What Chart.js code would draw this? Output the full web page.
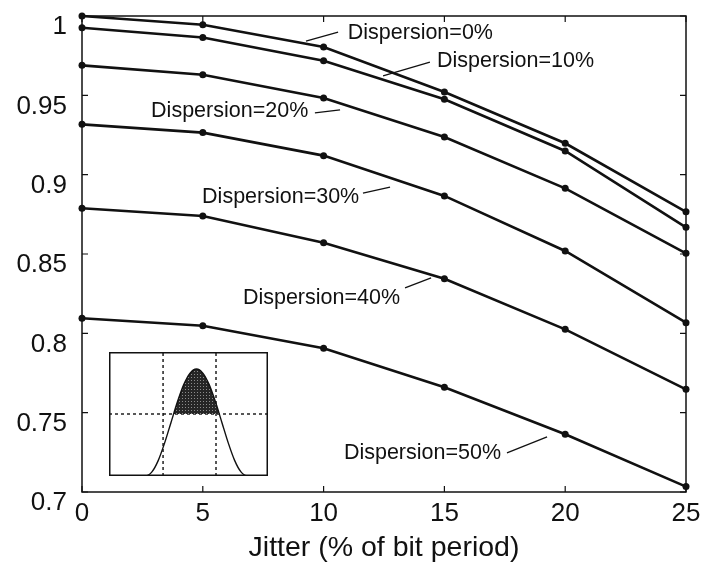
<!DOCTYPE html>
<html>
<head>
<meta charset="utf-8">
<script src="https://cdn.jsdelivr.net/npm/chart.js@4.4.1/dist/chart.umd.min.js"></script>
<style>
  body { margin: 0; background: #fff; }
  #wrap { position: relative; width: 709px; height: 565px; }
  #main { position: absolute; left: 0; top: 0; }
  #eye { position: absolute; left: 109px; top: 352px; }
</style>
</head>
<body>
<div id="wrap">
  <canvas id="main" width="709" height="565"></canvas>
  <canvas id="eye" width="159" height="124"></canvas>
</div>
<script>
const FONT = "'Liberation Sans', Arial, Helvetica, sans-serif";
const INK = '#111';

// jitter values on the x axis
const jitter = [0, 5, 10, 15, 20, 25];
const xTicks = [0, 5, 10, 15, 20, 25];
const yTicks = [0.7, 0.75, 0.8, 0.85, 0.9, 0.95, 1];

// one curve per dispersion level
const disp0  = [1.000, 0.9945, 0.9805, 0.9521, 0.9198, 0.8766];
const disp10 = [0.9926, 0.9865, 0.9718, 0.9475, 0.9149, 0.8668];
const disp20 = [0.9689, 0.9630, 0.9483, 0.9237, 0.8914, 0.8504];
const disp30 = [0.9317, 0.9265, 0.9120, 0.8866, 0.8519, 0.8067];
const disp40 = [0.8788, 0.8740, 0.8571, 0.8344, 0.8025, 0.7647];
const disp50 = [0.8095, 0.8048, 0.7906, 0.7660, 0.7364, 0.7034];

const seriesNames = ['Dispersion=0%', 'Dispersion=10%', 'Dispersion=20%',
                     'Dispersion=30%', 'Dispersion=40%', 'Dispersion=50%'];
const seriesValues = [disp0, disp10, disp20, disp30, disp40, disp50];

// eye-opening sketch for the small inset
const eyeX = [0, 0.23, 0.27, 0.31, 0.35, 0.39, 0.43, 0.47, 0.51, 0.55, 0.59, 0.63, 0.67, 0.71, 0.75, 0.79, 0.83, 0.87, 1];
const eyeY = [0, 0, 0.033, 0.126, 0.267, 0.432, 0.596, 0.737, 0.830, 0.863, 0.830, 0.737, 0.596, 0.432, 0.267, 0.126, 0.033, 0, 0];
const threshold = 0.5;
const sampleEdges = [0.34, 0.673];

// where each curve name sits, with its leader line (data units)
const callouts = [
  { text: seriesNames[0], at: [11.0, 0.9893], line: [9.27, 0.9842, 10.60, 0.9899] },
  { text: seriesNames[1], at: [14.69, 0.9716], line: [12.46, 0.9622, 14.40, 0.9710] },
  { text: seriesNames[2], at: [2.86, 0.9401], line: [9.64, 0.9389, 10.68, 0.9408] },
  { text: seriesNames[3], at: [4.97, 0.8859], line: [11.63, 0.8884, 12.75, 0.8922] },
  { text: seriesNames[4], at: [6.66, 0.8223], line: [13.37, 0.8286, 14.45, 0.8349] },
  { text: seriesNames[5], at: [10.84, 0.7246], line: [17.59, 0.7246, 19.25, 0.7347] }
];

// box around the plot with inward tick marks on all sides
const frame = {
  id: 'frame',
  beforeDatasetsDraw(chart) {
    const { ctx, chartArea: a, scales: { x, y } } = chart;
    const tl = 6;
    ctx.save();
    ctx.strokeStyle = INK;
    ctx.lineWidth = 1.5;
    ctx.strokeRect(a.left, a.top, a.right - a.left, a.bottom - a.top);
    ctx.lineWidth = 1.2;
    ctx.beginPath();
    xTicks.forEach(v => {
      const px = x.getPixelForValue(v);
      ctx.moveTo(px, a.bottom); ctx.lineTo(px, a.bottom - tl);
      ctx.moveTo(px, a.top); ctx.lineTo(px, a.top + tl);
    });
    yTicks.forEach(v => {
      const py = y.getPixelForValue(v);
      ctx.moveTo(a.left, py); ctx.lineTo(a.left + tl, py);
      ctx.moveTo(a.right, py); ctx.lineTo(a.right - tl, py);
    });
    ctx.stroke();
    ctx.restore();
  }
};

const names = {
  id: 'names',
  afterDatasetsDraw(chart) {
    const { ctx, scales: { x, y } } = chart;
    ctx.save();
    ctx.fillStyle = INK;
    ctx.strokeStyle = INK;
    ctx.lineWidth = 1.3;
    ctx.font = '21.5px ' + FONT;
    ctx.textAlign = 'left';
    ctx.textBaseline = 'middle';
    callouts.forEach(c => {
      ctx.fillText(c.text, x.getPixelForValue(c.at[0]), y.getPixelForValue(c.at[1]));
      ctx.beginPath();
      ctx.moveTo(x.getPixelForValue(c.line[0]), y.getPixelForValue(c.line[1]));
      ctx.lineTo(x.getPixelForValue(c.line[2]), y.getPixelForValue(c.line[3]));
      ctx.stroke();
    });
    ctx.restore();
  }
};

new Chart(document.getElementById('main'), {
  type: 'line',
  data: {
    datasets: seriesValues.map((vals, i) => ({
      label: seriesNames[i],
      data: jitter.map((j, k) => ({ x: j, y: vals[k] })),
      borderColor: INK,
      backgroundColor: INK,
      borderWidth: 2.6,
      pointRadius: 3.5,
      pointBorderWidth: 0,
      tension: 0,
      clip: false
    }))
  },
  options: {
    responsive: false,
    animation: false,
    layout: { padding: { top: 16, right: 23, left: 0, bottom: 0 } },
    plugins: { legend: { display: false }, tooltip: { enabled: false } },
    scales: {
      x: {
        type: 'linear',
        min: 0,
        max: 25,
        afterBuildTicks: s => { s.ticks = xTicks.map(v => ({ value: v })); },
        afterFit: s => { s.height = 73; s.paddingLeft = 0; s.paddingRight = 0; },
        grid: { display: false, drawTicks: false },
        border: { display: false },
        ticks: { color: INK, padding: 6, font: { family: FONT, size: 26 } },
        title: {
          display: true,
          text: 'Jitter (% of bit period)',
          color: INK,
          font: { family: FONT, size: 28.5, lineHeight: 1 },
          padding: { top: 0, bottom: 3 }
        }
      },
      y: {
        type: 'linear',
        min: 0.7,
        max: 1,
        afterBuildTicks: s => { s.ticks = yTicks.map(v => ({ value: v })); },
        afterFit: s => { s.width = 82; s.paddingTop = 0; s.paddingBottom = 0; },
        grid: { display: false, drawTicks: false },
        border: { display: false },
        ticks: {
          color: INK,
          padding: 15,
          labelOffset: 11,
          font: { family: FONT, size: 26, lineHeight: 1 },
          callback: v => String(+v.toFixed(2))
        }
      }
    }
  },
  plugins: [frame, names]
});

// inset: eye diagram with the open region shaded
const eyeCanvas = document.getElementById('eye');
const eyeCtx = eyeCanvas.getContext('2d');
const tile = document.createElement('canvas');
tile.width = 3; tile.height = 3;
const tg = tile.getContext('2d');
tg.fillStyle = '#262626'; tg.fillRect(0, 0, 3, 3);
tg.fillStyle = '#8c8c8c'; tg.fillRect(1, 1, 1, 1);
const shade = eyeCtx.createPattern(tile, 'repeat');

const eyeBox = {
  id: 'eyeBox',
  afterDraw(chart) {
    const { ctx, width, height } = chart;
    ctx.save();
    ctx.strokeStyle = INK;
    ctx.lineWidth = 1.5;
    ctx.strokeRect(0.75, 0.75, width - 1.5, height - 1.5);
    ctx.restore();
  }
};

const dashed = { borderColor: INK, borderWidth: 1.4, borderDash: [3, 3], pointRadius: 0, fill: false };

new Chart(eyeCanvas, {
  type: 'line',
  data: {
    datasets: [
      {
        data: eyeX.map((v, i) => ({ x: v, y: eyeY[i] })),
        borderColor: INK,
        borderWidth: 1.4,
        pointRadius: 0,
        cubicInterpolationMode: 'monotone',
        fill: { target: { value: threshold }, above: shade, below: 'rgba(0,0,0,0)' }
      },
      Object.assign({ data: [{ x: 0, y: threshold }, { x: 1, y: threshold }] }, dashed),
      Object.assign({ data: [{ x: sampleEdges[0], y: 0 }, { x: sampleEdges[0], y: 1 }] }, dashed),
      Object.assign({ data: [{ x: sampleEdges[1], y: 0 }, { x: sampleEdges[1], y: 1 }] }, dashed)
    ]
  },
  options: {
    responsive: false,
    animation: false,
    layout: { padding: 0 },
    plugins: { legend: { display: false }, tooltip: { enabled: false } },
    scales: {
      x: { type: 'linear', min: 0, max: 1, display: false },
      y: { min: 0, max: 1, display: false }
    }
  },
  plugins: [eyeBox]
});
</script>
</body>
</html>
